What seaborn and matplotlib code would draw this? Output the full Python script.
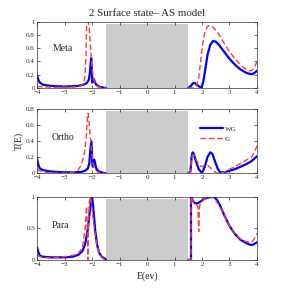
import numpy as np
import pandas as pd
import matplotlib
matplotlib.use("Agg")
import matplotlib.pyplot as plt
import seaborn as sns

# ---- data: (E, T) points, left and right of the gap ----
meta_wg_left_x = [-4.0, -3.95, -3.9, -3.8, -3.6, -3.3, -3.0, -2.7, -2.5, -2.3, -2.2, -2.12, -2.08, -2.05, -2.03, -2.01, -1.99, -1.97, -1.95, -1.93, -1.9, -1.85, -1.75, -1.6, -1.5]
meta_wg_left_y = [0.19, 0.12, 0.08, 0.05, 0.035, 0.025, 0.02, 0.025, 0.03, 0.05, 0.07, 0.12, 0.22, 0.38, 0.45, 0.3, 0.08, 0.1, 0.14, 0.13, 0.09, 0.05, 0.02, 0.005, 0.0]
meta_wg_right_x = [1.5, 1.6, 1.65, 1.7, 1.75, 1.8, 1.9, 1.98, 2.05, 2.12, 2.2, 2.3, 2.4, 2.5, 2.6, 2.8, 3.0, 3.2, 3.4, 3.6, 3.75, 3.85, 3.95, 4.0]
meta_wg_right_y = [0.0, 0.03, 0.06, 0.075, 0.07, 0.05, 0.02, 0.0, 0.1, 0.28, 0.5, 0.65, 0.71, 0.7, 0.66, 0.55, 0.44, 0.35, 0.28, 0.23, 0.21, 0.21, 0.24, 0.26]

meta_g_left_x = [-4.0, -3.8, -3.5, -3.0, -2.6, -2.4, -2.3, -2.25, -2.22, -2.2, -2.17, -2.13, -2.1, -2.07, -2.03, -2.0, -1.95, -1.9, -1.8, -1.6, -1.5]
meta_g_left_y = [0.02, 0.015, 0.01, 0.01, 0.015, 0.03, 0.07, 0.2, 0.5, 0.95, 1.0, 1.0, 0.9, 0.7, 0.45, 0.3, 0.15, 0.08, 0.02, 0.0, 0.0]
meta_g_right_x = [1.5, 1.7, 1.8, 1.88, 1.95, 2.02, 2.1, 2.2, 2.3, 2.45, 2.6, 2.8, 3.0, 3.2, 3.4, 3.6, 3.7, 3.8, 3.9, 4.0]
meta_g_right_y = [0.0, 0.0, 0.02, 0.15, 0.4, 0.65, 0.84, 0.93, 0.95, 0.9, 0.82, 0.68, 0.55, 0.44, 0.35, 0.28, 0.26, 0.26, 0.3, 0.4]

ortho_wg_left_x = [-4.0, -3.95, -3.9, -3.8, -3.6, -3.3, -3.0, -2.7, -2.4, -2.25, -2.15, -2.1, -2.06, -2.03, -2.01, -1.99, -1.97, -1.95, -1.92, -1.89, -1.85, -1.75, -1.6, -1.5]
ortho_wg_left_y = [0.18, 0.1, 0.06, 0.04, 0.025, 0.015, 0.01, 0.01, 0.015, 0.03, 0.06, 0.12, 0.3, 0.4, 0.32, 0.12, 0.08, 0.13, 0.17, 0.13, 0.06, 0.02, 0.005, 0.0]
ortho_wg_right_x = [1.5, 1.58, 1.62, 1.66, 1.7, 1.78, 1.88, 2.0, 2.1, 2.2, 2.3, 2.38, 2.48, 2.58, 2.66, 2.8, 3.0, 3.2, 3.4, 3.6, 3.8, 4.0]
ortho_wg_right_y = [0.0, 0.02, 0.2, 0.26, 0.24, 0.15, 0.05, 0.0, 0.08, 0.2, 0.26, 0.24, 0.14, 0.05, 0.01, 0.01, 0.03, 0.05, 0.08, 0.11, 0.15, 0.21]

ortho_g_left_x = [-4.0, -3.9, -3.7, -3.4, -3.0, -2.7, -2.5, -2.4, -2.3, -2.25, -2.2, -2.17, -2.14, -2.1, -2.05, -2.0, -1.95, -1.9, -1.8, -1.6, -1.5]
ortho_g_left_y = [0.05, 0.03, 0.01, 0.0, 0.0, 0.01, 0.04, 0.1, 0.2, 0.32, 0.5, 0.7, 0.75, 0.6, 0.4, 0.22, 0.1, 0.05, 0.015, 0.0, 0.0]
ortho_g_right_x = [1.5, 1.58, 1.62, 1.66, 1.72, 1.8, 1.9, 2.0, 2.1, 2.2, 2.3, 2.4, 2.55, 2.7, 2.85, 3.0, 3.2, 3.4, 3.6, 3.8, 3.9, 4.0]
ortho_g_right_y = [0.0, 0.02, 0.18, 0.23, 0.22, 0.16, 0.1, 0.08, 0.1, 0.1, 0.07, 0.03, 0.0, 0.0, 0.02, 0.05, 0.08, 0.12, 0.16, 0.2, 0.26, 0.34]

para_wg_left_x = [-4.0, -3.95, -3.9, -3.8, -3.5, -3.0, -2.7, -2.5, -2.35, -2.25, -2.15, -2.08, -2.03, -2.0, -1.97, -1.93, -1.88, -1.82, -1.75, -1.65, -1.5]
para_wg_left_y = [0.2, 0.12, 0.07, 0.05, 0.04, 0.04, 0.05, 0.08, 0.14, 0.25, 0.5, 0.78, 0.96, 1.0, 0.9, 0.7, 0.45, 0.25, 0.12, 0.05, 0.01]
para_wg_right_x = [1.5, 1.6, 1.6, 1.63, 1.68, 1.75, 1.85, 1.95, 2.05, 2.2, 2.35, 2.45, 2.55, 2.65, 2.8, 3.0, 3.2, 3.4, 3.6, 3.75, 3.85, 4.0]
para_wg_right_y = [0.0, 0.0, 1.0, 0.98, 0.93, 0.9, 0.9, 0.93, 0.96, 0.99, 1.0, 1.0, 0.95, 0.87, 0.72, 0.54, 0.41, 0.32, 0.27, 0.24, 0.24, 0.28]

para_g_left_x = [-4.0, -3.8, -3.5, -3.0, -2.7, -2.5, -2.35, -2.25, -2.2, -2.17, -2.15, -2.13, -2.1, -2.06, -2.02, -1.97, -1.9, -1.82, -1.72, -1.6, -1.5]
para_g_left_y = [0.07, 0.04, 0.03, 0.05, 0.07, 0.1, 0.2, 0.5, 0.85, 0.4, 0.0, 0.5, 0.92, 1.0, 0.9, 0.7, 0.45, 0.22, 0.08, 0.02, 0.0]
para_g_right_x = [1.5, 1.6, 1.6, 1.65, 1.72, 1.8, 1.85, 1.88, 1.91, 1.95, 2.05, 2.2, 2.35, 2.45, 2.6, 2.8, 3.0, 3.2, 3.4, 3.6, 3.8, 3.9, 4.0]
para_g_right_y = [0.0, 0.0, 1.0, 0.95, 0.9, 0.88, 0.85, 0.45, 0.85, 0.9, 0.95, 0.99, 1.0, 0.98, 0.88, 0.72, 0.54, 0.41, 0.33, 0.29, 0.28, 0.33, 0.42]

panel_names = ["Meta", "Ortho", "Para"]
panel_ylims = [1.0, 0.8, 1.0]
panel_yticks = [[0, 0.2, 0.4, 0.6, 0.8, 1], [0, 0.2, 0.4, 0.6, 0.8], [0, 0.5, 1]]
panel_label_pos = [(-3.05, 0.6), (-3.05, 0.45), (-3.15, 0.54)]
gap_lo, gap_hi = -1.5, 1.5

curves = {
    "Meta": [(meta_wg_left_x, meta_wg_left_y, meta_wg_right_x, meta_wg_right_y),
             (meta_g_left_x, meta_g_left_y, meta_g_right_x, meta_g_right_y)],
    "Ortho": [(ortho_wg_left_x, ortho_wg_left_y, ortho_wg_right_x, ortho_wg_right_y),
              (ortho_g_left_x, ortho_g_left_y, ortho_g_right_x, ortho_g_right_y)],
    "Para": [(para_wg_left_x, para_wg_left_y, para_wg_right_x, para_wg_right_y),
             (para_g_left_x, para_g_left_y, para_g_right_x, para_g_right_y)],
}

sns.set_style("white")
plt.rcParams['font.family'] = ['Liberation Serif', 'DejaVu Serif']

fig = plt.figure(figsize=(2.83, 2.91), dpi=100)
boxes = [[0.131, 0.698, 0.777, 0.227],
         [0.131, 0.405, 0.777, 0.220],
         [0.131, 0.107, 0.777, 0.216]]

styles = [dict(color="#0000ff", lw=1.6, ls="-", label="WG"),
          dict(color="#ff3b3b", lw=1.0, ls=(0, (4, 2)), label="G")]

for i, name in enumerate(panel_names):
    ax = fig.add_axes(boxes[i])
    ax.axvspan(gap_lo, gap_hi, ymin=0, ymax=0.97, color="#cccccc", lw=0, zorder=0)
    for (lx, ly, rx, ry), st in zip(curves[name], styles):
        for k, (xs, ys) in enumerate([(lx, ly), (rx, ry)]):
            df = pd.DataFrame({"E": xs, "T": ys})
            sns.lineplot(data=df, x="E", y="T", ax=ax, sort=False, estimator=None,
                         color=st["color"], linewidth=st["lw"], linestyle=st["ls"],
                         label=st["label"] if k == 0 else None, legend=False)
    ax.set_xlim(-4, 4)
    ax.set_ylim(0, panel_ylims[i])
    ax.set_xticks([-4, -3, -2, -1, 0, 1, 2, 3, 4])
    ax.set_yticks(panel_yticks[i])
    ax.set_yticklabels([f"{t:g}" for t in panel_yticks[i]])
    ax.set_xlabel("")
    ax.set_ylabel("")
    ax.tick_params(direction="in", length=2, width=0.5, labelsize=5, pad=1.5,
                   top=True, right=True, bottom=True, left=True)
    for sp in ax.spines.values():
        sp.set_linewidth(0.5)
        sp.set_color("#333333")
    ax.text(panel_label_pos[i][0], panel_label_pos[i][1], name, fontsize=7, ha="center", va="center")
    if name == "Ortho":
        ax.legend(loc="upper left", bbox_to_anchor=(0.73, 0.78), frameon=False, fontsize=5,
                  handlelength=3.2, handletextpad=0.3, labelspacing=0.6, borderaxespad=0)

fig.text(0.52, 0.955, "2 Surface state\u2013 AS model", ha="center", va="center", fontsize=7.8)
fig.text(0.52, 0.052, "E(ev)", ha="center", va="center", fontsize=7)
fig.text(0.068, 0.515, "T(E)", ha="center", va="center", fontsize=7, rotation=90)

fig.savefig("out.png", dpi=100)
